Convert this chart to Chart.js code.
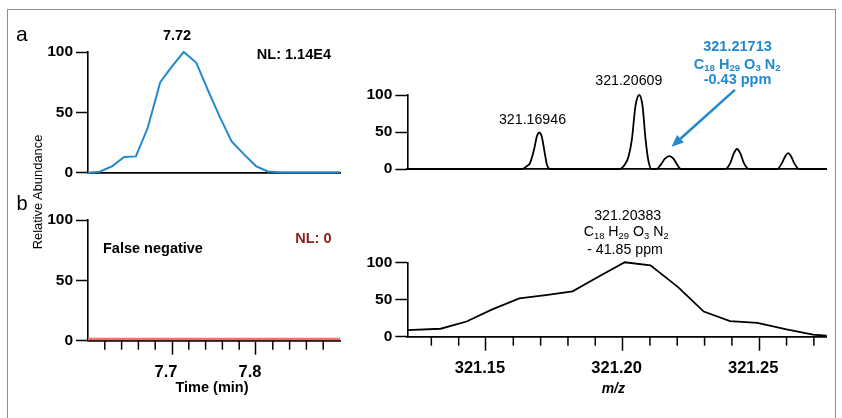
<!DOCTYPE html>
<html><head><meta charset="utf-8">
<script src="https://cdn.jsdelivr.net/npm/chart.js@4"></script>
<style>
html,body{margin:0;padding:0;background:#fff;width:842px;height:418px;overflow:hidden;font-family:"Liberation Sans",Arial,sans-serif;}
canvas{position:absolute;left:0;top:0;}
#frame{position:absolute;left:7px;top:9px;width:829px;height:440px;border:1.5px solid #8f8f8f;box-sizing:border-box;}
.t{position:absolute;white-space:nowrap;line-height:1;}
.s{font-size:0.66em;position:relative;top:0.28em;}
</style></head>
<body>
<div id="frame"></div>
<canvas id="cTL" width="842" height="418"></canvas>
<canvas id="cBL" width="842" height="418"></canvas>
<canvas id="cTR" width="842" height="418"></canvas>
<canvas id="cBR" width="842" height="418"></canvas>
<script>
// ---------- data ----------
const tlTime  = [7.600,7.614,7.629,7.643,7.657,7.671,7.686,7.700,7.714,7.729,7.743,7.757,7.771,7.786,7.800,7.814,7.829,7.843,7.857,7.871,7.886,7.900];
const tlAbund = [0,0.8,5.5,13,13.5,37,75,88,100,91,68,46,26,15,5.5,1,0.3,0.3,0.3,0.3,0.3,0.3];
const blTime  = [7.600,7.700,7.800,7.900];
const blAbund = [1.5,1.5,1.5,1.5];
const trMz  = [321.1212,321.1631,321.1650,321.1661,321.1677,321.1686,321.1695,321.1704,321.1714,321.1723,321.1734,
               321.1990,321.2008,321.2021,321.2034,321.2047,321.2061,321.2073,321.2084,321.2095,321.2106,
               321.2124,321.2140,321.2155,321.2171,321.2186,321.2201,321.2213,
               321.2376,321.2394,321.2407,321.2419,321.2431,321.2444,321.2462,
               321.2566,321.2583,321.2595,321.2606,321.2617,321.2628,321.2646,321.2747];
const trInt = [0,0,4,8,28,44,49,44,24,6,0,
               0,6,16,40,85,100,85,40,10,0,
               0,6,14,17.5,14,5,0,
               0,8,21,27,21,8,0,
               0,8,17,21.5,17,8,0,0];
const brMz  = [321.1212,321.1334,321.1429,321.1521,321.1622,321.1719,321.1817,321.1913,321.2008,321.2102,321.2203,321.2297,321.2393,321.2493,321.2600,321.2697,321.2747];
const brInt = [8.9,10.7,20.4,36.4,51.6,56,60.9,80.9,100,96,66.7,33.8,20.9,18.7,9.8,2.7,1.3];
const abundanceTicks = [0,50,100];
const timeTicks = [7.62,7.64,7.66,7.68,7.70,7.72,7.74,7.76,7.78,7.80,7.82,7.84,7.86,7.88];
const timeLabels = ['7.7','7.8'];
const mzTicks = [321.13,321.14,321.15,321.16,321.17,321.18,321.19,321.20,321.21,321.22,321.23,321.24,321.25,321.26,321.27];
const mzLabels = ['321.15','321.20','321.25'];
const timeRange = [7.6,7.9];
const mzRange = [321.1212,321.2747];

// ---------- helpers ----------
const FONT = "'Liberation Sans', Arial, sans-serif";
const BLUE = '#2289cf';
function labelFor(v, labels){ const l = labels.find(s => Math.abs(parseFloat(s)-v) < 1e-6); return l || ''; }

function yScale(width){
  return {type:'linear', min:0, max:100,
    afterBuildTicks: s => { s.ticks = abundanceTicks.map(v => ({value:v})); },
    afterFit: s => { s.width = width; },
    grid:{display:true, drawOnChartArea:false, drawTicks:true, tickLength:12, tickWidth:1.5, tickColor:'#000'},
    border:{display:true, color:'#000', width:1.6},
    ticks:{font:{family:FONT, size:15.5, weight:'bold'}, color:'#000', padding:3, callback: v => String(v)}
  };
}
function xScaleTop(range){
  return {type:'linear', min:range[0], max:range[1],
    afterFit: s => { s.height = 4; },
    grid:{display:false},
    border:{display:true, color:'#000', width:1.8},
    ticks:{display:false}
  };
}
function xScaleBottom(range, tickVals, labels, height){
  return {type:'linear', min:range[0], max:range[1],
    afterBuildTicks: s => { s.ticks = tickVals.map(v => ({value:v})); },
    afterFit: s => { s.height = height; },
    grid:{display:true, drawOnChartArea:false, drawTicks:true, tickLength:14, tickWidth:1.5,
      tickColor: c => (c.tick && labelFor(c.tick.value, labels)) ? '#000' : 'rgba(0,0,0,0)'},
    border:{display:true, color:'#000', width:1.8},
    ticks:{autoSkip:false, maxRotation:0, minRotation:0, font:{family:FONT, size:16.5, weight:'bold'}, color:'#000',
      padding:8, labelOffset:-6, callback: v => labelFor(v, labels)}
  };
}
// minor ticks (shorter) drawn at the scale's own pixel positions
function minorTicks(tickVals, labels){
  return {id:'minor', afterDraw(chart){
    const xs = chart.scales.x, ctx = chart.ctx;
    ctx.save(); ctx.strokeStyle='#000'; ctx.lineWidth=1.5;
    tickVals.forEach(v => {
      if (labelFor(v, labels)) return;
      const px = xs.getPixelForValue(v);
      ctx.beginPath(); ctx.moveTo(px, xs.top); ctx.lineTo(px, xs.top+9); ctx.stroke();
    });
    ctx.restore();
  }};
}
function makeChart(id, area, xOpt, yWidth, xHeight, ds, plugins){
  return new Chart(document.getElementById(id), {
    type:'line',
    data:{datasets:[ds]},
    options:{
      responsive:false, animation:false, devicePixelRatio:1,
      layout:{padding:{left:area.l - yWidth, top:area.t, right:842 - area.r, bottom:418 - area.b - xHeight}},
      plugins:{legend:{display:false}, tooltip:{enabled:false}},
      scales:{x:xOpt, y:yScale(yWidth)},
      elements:{point:{radius:0}}
    },
    plugins: plugins || []
  });
}
const pts = (xs, ys) => xs.map((x,i) => ({x:x, y:ys[i]}));

// ---------- panels ----------
makeChart('cTL', {l:88, r:340, t:52, b:172.7}, xScaleTop(timeRange), 60, 4,
  {data:pts(tlTime, tlAbund), borderColor:BLUE, borderWidth:2, tension:0, clip:false, pointRadius:0});

makeChart('cBL', {l:88, r:340, t:220, b:340.7}, xScaleBottom(timeRange, timeTicks, timeLabels, 40), 60, 40,
  {data:pts(blTime, blAbund), borderColor:'rgb(240,112,112)', borderWidth:2.5, tension:0, clip:false, pointRadius:0},
  [minorTicks(timeTicks, timeLabels)]);

const arrowPlugin = {id:'arrow', afterDraw(chart){
  const xs = chart.scales.x, ys = chart.scales.y, ctx = chart.ctx;
  const x1 = xs.getPixelForValue(321.2411), y1 = ys.getPixelForValue(107);
  const x2 = xs.getPixelForValue(321.2179), y2 = ys.getPixelForValue(30);
  const ang = Math.atan2(y2-y1, x2-x1), L = 12, W = 5;
  const bx = x2 - L*Math.cos(ang), by = y2 - L*Math.sin(ang);
  ctx.save(); ctx.strokeStyle = BLUE; ctx.fillStyle = BLUE; ctx.lineWidth = 2.5;
  ctx.beginPath(); ctx.moveTo(x1,y1); ctx.lineTo(bx,by); ctx.stroke();
  ctx.beginPath(); ctx.moveTo(x2,y2);
  ctx.lineTo(bx + W*Math.sin(ang), by - W*Math.cos(ang));
  ctx.lineTo(bx - W*Math.sin(ang), by + W*Math.cos(ang));
  ctx.closePath(); ctx.fill();
  ctx.restore();
}};
makeChart('cTR', {l:407.3, r:826.7, t:95, b:169}, xScaleTop(mzRange), 60, 4,
  {data:pts(trMz, trInt), borderColor:'#000', borderWidth:1.8, cubicInterpolationMode:'monotone', clip:false, pointRadius:0},
  [arrowPlugin]);

makeChart('cBR', {l:407.3, r:826.7, t:262.3, b:336.7}, xScaleBottom(mzRange, mzTicks, mzLabels, 40), 60, 40,
  {data:pts(brMz, brInt), borderColor:'#000', borderWidth:1.8, tension:0, clip:false, pointRadius:0},
  [minorTicks(mzTicks, mzLabels)]);

// ---------- annotation text ----------
function addText(html, x, base, size, opt){
  opt = opt || {};
  const d = document.createElement('div');
  d.className = 't';
  d.innerHTML = html;
  d.style.fontSize = size + 'px';
  d.style.fontWeight = opt.bold ? 'bold' : 'normal';
  d.style.fontStyle = opt.italic ? 'italic' : 'normal';
  d.style.color = opt.color || '#000';
  d.style.left = x + 'px';
  d.style.top = (base - 0.8465*size) + 'px';
  const tx = opt.align === 'center' ? '-50%' : opt.align === 'right' ? '-100%' : '0';
  d.style.transform = 'translateX(' + tx + ')';
  document.body.appendChild(d);
  return d;
}
const formula = 'C<span class="s">18</span> H<span class="s">29</span> O<span class="s">3</span> N<span class="s">2</span>';
addText('a', 16, 40.7, 21);
addText('b', 16.5, 210, 20);
addText('7.72', 177, 40.5, 14.5, {bold:true, align:'center'});
addText('NL: 1.14E4', 331, 59, 14.5, {bold:true, align:'right'});
addText('False negative', 103, 253, 14.5, {bold:true});
addText('NL: 0', 331.5, 243.3, 14.5, {bold:true, align:'right', color:'#8b1c1c'});
const ra = document.createElement('div');
ra.className = 't'; ra.textContent = 'Relative Abundance';
ra.style.cssText += 'font-size:12.9px;left:38px;top:191.7px;transform:translate(-50%,-50%) rotate(-90deg);';
document.body.appendChild(ra);
addText('321.16946', 532.5, 124, 14.2, {align:'center'});
addText('321.20609', 628.8, 85, 14.2, {align:'center'});
addText('321.21713', 737.5, 51.7, 14.5, {bold:true, align:'center', color:BLUE});
addText(formula, 737.2, 69, 14.5, {bold:true, align:'center', color:BLUE});
addText('-0.43 ppm', 737.5, 84, 14.5, {bold:true, align:'center', color:BLUE});
addText('321.20383', 627.7, 220, 14.2, {align:'center'});
addText(formula, 626.2, 236.5, 14.2, {align:'center'});
addText('- 41.85 ppm', 625, 254, 14.2, {align:'center'});
addText('Time (min)', 212, 392.5, 14.5, {bold:true, align:'center'});
addText('m/z', 613.3, 392.5, 14, {bold:true, italic:true, align:'center'});
</script>
</body></html>
